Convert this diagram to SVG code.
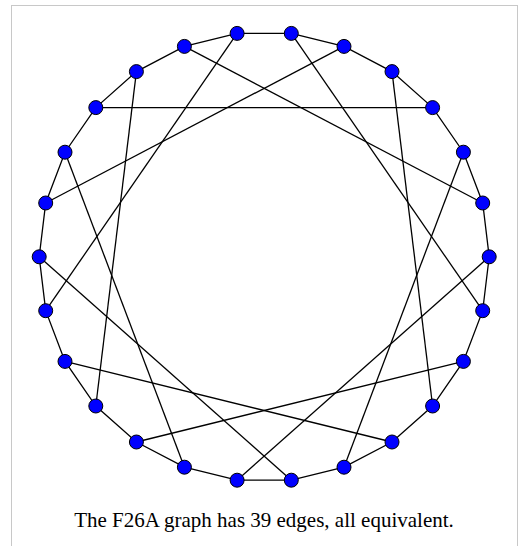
<svg xmlns="http://www.w3.org/2000/svg" width="518" height="546" viewBox="0 0 518 546">
<style>
.frame{fill:#fff;stroke:#c8c8c8;stroke-width:1}
.e{stroke:#000;stroke-width:1.3;fill:none}
.n{fill:#0000ff;stroke:#000;stroke-width:1}
.cap{font-family:"Liberation Serif","Times New Roman",serif;font-size:21px;fill:#000;text-anchor:middle}
</style>
<rect class="frame" x="11.5" y="5.5" width="506" height="560"/>
<g id="connectors">
<polygon class="e" points="291.3,33.4 344,46.4 392,71.6 432.6,107.6 463.4,152.2 482.7,203 489.2,256.8 482.7,310.7 463.4,361.4 432.6,406 392,442 344,467.2 291.3,480.2 237.1,480.2 184.4,467.2 136.4,442 95.8,406 65,361.4 45.7,310.7 39.2,256.8 45.7,203 65,152.2 95.8,107.6 136.4,71.6 184.4,46.4 237.1,33.4"/>
<line class="e" x1="291.3" y1="33.4" x2="482.7" y2="310.7"/>
<line class="e" x1="392" y1="71.6" x2="432.6" y2="406"/>
<line class="e" x1="463.4" y1="152.2" x2="344" y2="467.2"/>
<line class="e" x1="489.2" y1="256.8" x2="237.1" y2="480.2"/>
<line class="e" x1="463.4" y1="361.4" x2="136.4" y2="442"/>
<line class="e" x1="392" y1="442" x2="65" y2="361.4"/>
<line class="e" x1="291.3" y1="480.2" x2="39.2" y2="256.8"/>
<line class="e" x1="344" y1="46.4" x2="45.7" y2="203"/>
<line class="e" x1="432.6" y1="107.6" x2="95.8" y2="107.6"/>
<line class="e" x1="482.7" y1="203" x2="184.4" y2="46.4"/>
<line class="e" x1="184.4" y1="467.2" x2="65" y2="152.2"/>
<line class="e" x1="95.8" y1="406" x2="136.4" y2="71.6"/>
<line class="e" x1="45.7" y1="310.7" x2="237.1" y2="33.4"/>
</g>
<g id="n0"><circle class="n" cx="291.3" cy="33.4" r="7"/></g>
<g id="n1"><circle class="n" cx="344" cy="46.4" r="7"/></g>
<g id="n2"><circle class="n" cx="392" cy="71.6" r="7"/></g>
<g id="n3"><circle class="n" cx="432.6" cy="107.6" r="7"/></g>
<g id="n4"><circle class="n" cx="463.4" cy="152.2" r="7"/></g>
<g id="n5"><circle class="n" cx="482.7" cy="203" r="7"/></g>
<g id="n6"><circle class="n" cx="489.2" cy="256.8" r="7"/></g>
<g id="n7"><circle class="n" cx="482.7" cy="310.7" r="7"/></g>
<g id="n8"><circle class="n" cx="463.4" cy="361.4" r="7"/></g>
<g id="n9"><circle class="n" cx="432.6" cy="406" r="7"/></g>
<g id="n10"><circle class="n" cx="392" cy="442" r="7"/></g>
<g id="n11"><circle class="n" cx="344" cy="467.2" r="7"/></g>
<g id="n12"><circle class="n" cx="291.3" cy="480.2" r="7"/></g>
<g id="n13"><circle class="n" cx="237.1" cy="480.2" r="7"/></g>
<g id="n14"><circle class="n" cx="184.4" cy="467.2" r="7"/></g>
<g id="n15"><circle class="n" cx="136.4" cy="442" r="7"/></g>
<g id="n16"><circle class="n" cx="95.8" cy="406" r="7"/></g>
<g id="n17"><circle class="n" cx="65" cy="361.4" r="7"/></g>
<g id="n18"><circle class="n" cx="45.7" cy="310.7" r="7"/></g>
<g id="n19"><circle class="n" cx="39.2" cy="256.8" r="7"/></g>
<g id="n20"><circle class="n" cx="45.7" cy="203" r="7"/></g>
<g id="n21"><circle class="n" cx="65" cy="152.2" r="7"/></g>
<g id="n22"><circle class="n" cx="95.8" cy="107.6" r="7"/></g>
<g id="n23"><circle class="n" cx="136.4" cy="71.6" r="7"/></g>
<g id="n24"><circle class="n" cx="184.4" cy="46.4" r="7"/></g>
<g id="n25"><circle class="n" cx="237.1" cy="33.4" r="7"/></g>
<text class="cap" x="264" y="526.5">The F26A graph has 39 edges, all equivalent.</text>
</svg>
